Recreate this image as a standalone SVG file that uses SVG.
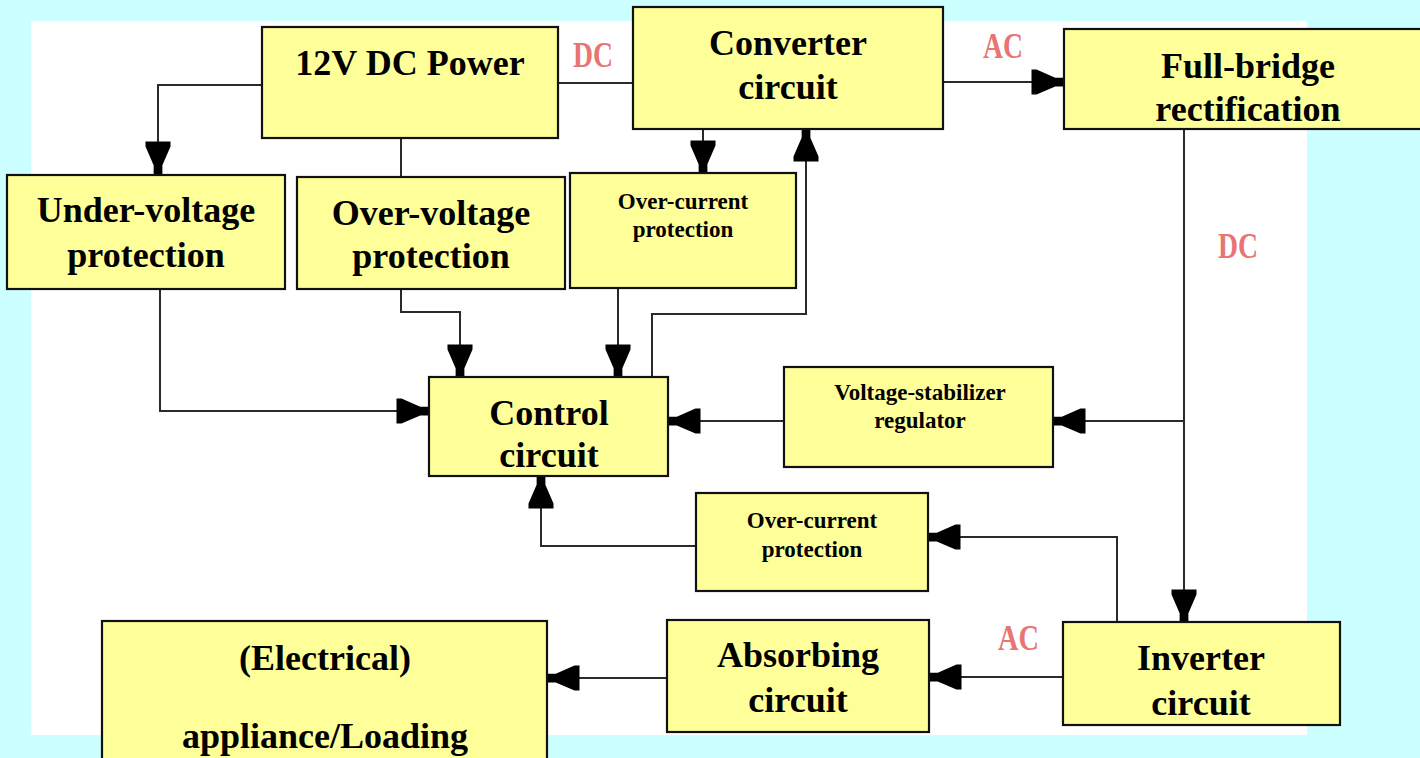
<svg xmlns="http://www.w3.org/2000/svg" width="1420" height="758" viewBox="0 0 1420 758">
<style>
.box{fill:#FFFF99;stroke:#111;stroke-width:2.2}
.t{font-family:"Liberation Serif","Times New Roman",serif;font-weight:bold;fill:#000;text-anchor:middle}
.big{font-size:36px}
.sm{font-size:23px}
.lbl{font-family:"Liberation Serif","Times New Roman",serif;font-weight:bold;font-size:36px;fill:#E87474}
.c{fill:none;stroke:#2a2a2a;stroke-width:2}
</style>
<defs>
<marker id="ah" markerUnits="userSpaceOnUse" orient="auto" refX="0" refY="0" markerWidth="40" markerHeight="40" viewBox="-30 -15 32 30" overflow="visible">
<polygon points="-26,-10 -22,-10 -7,-3.5 0,-3.5 0,3.5 -7,3.5 -22,10 -26,10" fill="#000"/>
</marker>
</defs>
<rect x="0" y="0" width="1420" height="758" fill="#CCFFFF"/>
<rect x="31" y="21" width="1276" height="714" fill="#FFFFFF"/>

<g id="connectors">
<path class="c" d="M262,85 H158 V174" marker-end="url(#ah)"/>
<path class="c" d="M558,83 H633"/>
<path class="c" d="M401,138 V177"/>
<path class="c" d="M703,129 V173" marker-end="url(#ah)"/>
<path class="c" d="M652,377 V314 H806 V129" marker-end="url(#ah)"/>
<path class="c" d="M943,82 H1064" marker-end="url(#ah)"/>
<path class="c" d="M160,289 V411 H429" marker-end="url(#ah)"/>
<path class="c" d="M401,289 V312 H460 V377" marker-end="url(#ah)"/>
<path class="c" d="M618,288 V377" marker-end="url(#ah)"/>
<path class="c" d="M1184,129 V622" marker-end="url(#ah)"/>
<path class="c" d="M1184,421 H1053" marker-end="url(#ah)"/>
<path class="c" d="M784,421 H668" marker-end="url(#ah)"/>
<path class="c" d="M1117,622 V537 H928" marker-end="url(#ah)"/>
<path class="c" d="M696,546 H541 V476" marker-end="url(#ah)"/>
<path class="c" d="M1063,677 H929" marker-end="url(#ah)"/>
<path class="c" d="M667,678 H547" marker-end="url(#ah)"/>
<text class="lbl" x="573" y="67" textLength="40" lengthAdjust="spacingAndGlyphs">DC</text>
<text class="lbl" x="983" y="58" textLength="40" lengthAdjust="spacingAndGlyphs">AC</text>
<text class="lbl" x="1218" y="258" textLength="40" lengthAdjust="spacingAndGlyphs">DC</text>
<text class="lbl" x="998" y="650" textLength="41" lengthAdjust="spacingAndGlyphs">AC</text>
</g>

<g id="power12v">
<rect class="box" x="262" y="27" width="296" height="111"/>
<text class="t big" x="410" y="75">12V DC Power</text>
</g>
<g id="converter">
<rect class="box" x="633" y="7" width="310" height="122"/>
<text class="t big" x="788" y="55">Converter</text>
<text class="t big" x="788" y="99">circuit</text>
</g>
<g id="fullbridge">
<rect class="box" x="1064" y="29" width="380" height="100"/>
<text class="t big" x="1248" y="78">Full-bridge</text>
<text class="t big" x="1248" y="121">rectification</text>
</g>
<g id="undervoltage">
<rect class="box" x="7" y="175" width="278" height="114"/>
<text class="t big" x="146" y="222">Under-voltage</text>
<text class="t big" x="146" y="267">protection</text>
</g>
<g id="overvoltage">
<rect class="box" x="297" y="177" width="268" height="112"/>
<text class="t big" x="431" y="225">Over-voltage</text>
<text class="t big" x="431" y="268">protection</text>
</g>
<g id="overcurrent1">
<rect class="box" x="570" y="173" width="226" height="115"/>
<text class="t sm" x="683" y="209">Over-current</text>
<text class="t sm" x="683" y="237">protection</text>
</g>
<g id="control">
<rect class="box" x="429" y="377" width="239" height="99"/>
<text class="t big" x="549" y="425">Control</text>
<text class="t big" x="549" y="467">circuit</text>
</g>
<g id="stabilizer">
<rect class="box" x="784" y="367" width="269" height="100"/>
<text class="t sm" x="920" y="400">Voltage-stabilizer</text>
<text class="t sm" x="920" y="428">regulator</text>
</g>
<g id="overcurrent2">
<rect class="box" x="696" y="493" width="232" height="98"/>
<text class="t sm" x="812" y="528">Over-current</text>
<text class="t sm" x="812" y="557">protection</text>
</g>
<g id="inverter">
<rect class="box" x="1063" y="622" width="277" height="103"/>
<text class="t big" x="1201" y="670">Inverter</text>
<text class="t big" x="1201" y="715">circuit</text>
</g>
<g id="absorbing">
<rect class="box" x="667" y="620" width="262" height="112"/>
<text class="t big" x="798" y="667">Absorbing</text>
<text class="t big" x="798" y="712">circuit</text>
</g>
<g id="appliance">
<rect class="box" x="102" y="621" width="445" height="150"/>
<text class="t big" x="325" y="670">(Electrical)</text>
<text class="t big" x="325" y="748">appliance/Loading</text>
</g>
</svg>
